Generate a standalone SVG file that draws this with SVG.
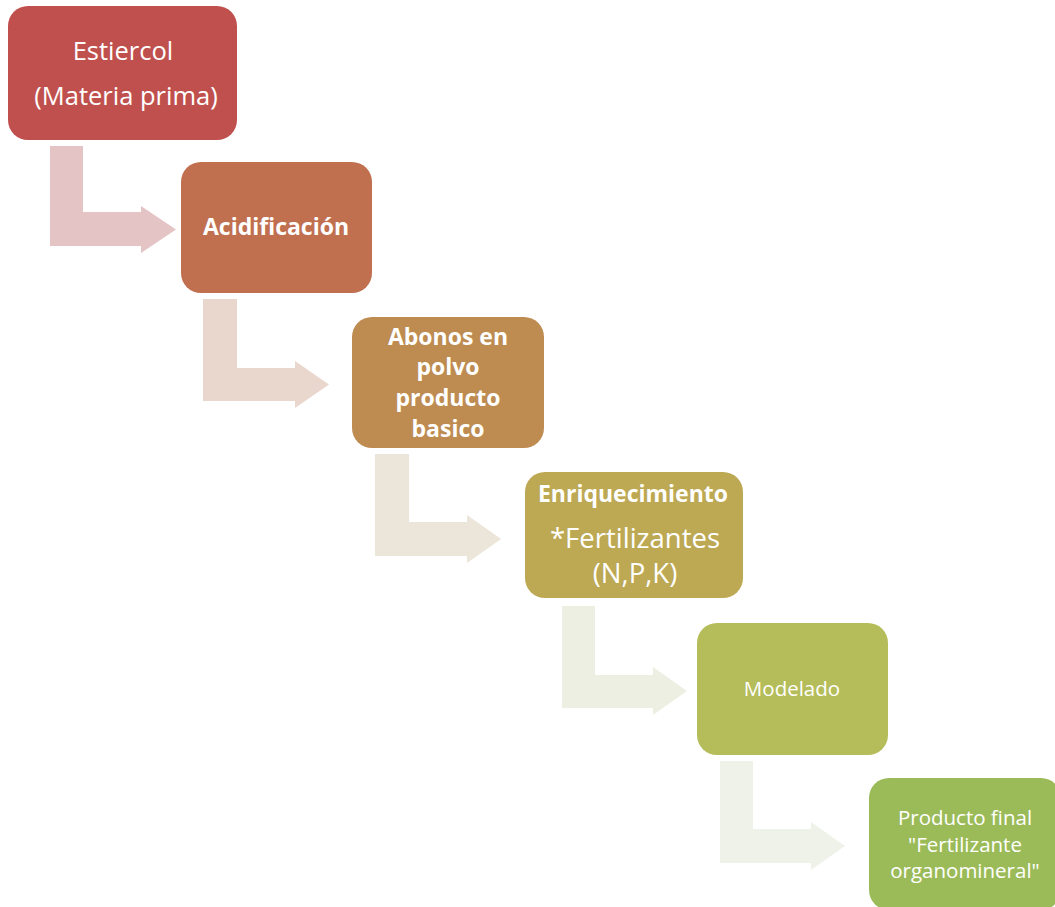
<svg xmlns="http://www.w3.org/2000/svg" width="1055" height="907" viewBox="0 0 1055 907">
<style>
.t{font-family:"Open Sans","Liberation Sans",sans-serif;fill:#fff;text-anchor:middle}
.b{font-weight:bold}
</style>
<rect width="1055" height="907" fill="#fff"/>
<g id="connectors">
<path d="M50,146 H83 V212 H141 V206 L176,229.5 L141,253 V246 H50 Z" fill="#E4C4C5"/>
<path d="M203,299 H237 V368 H295 V361 L329,384.5 L295,408 V401 H203 Z" fill="#E9D7CD"/>
<path d="M375,454 H409 V522 H467 V515 L501,539 L467,563 V556 H375 Z" fill="#ECE5D9"/>
<path d="M562,606 H595 V675 H653 V667 L687,691 L653,715 V708 H562 Z" fill="#EEEFE3"/>
<path d="M720,761 H753 V829 H811 V822 L845,846 L811,870 V863 H720 Z" fill="#EFF2E9"/>
</g>
<g id="n1">
<rect x="8" y="6" width="229" height="134" rx="20" fill="#C0504D"/>
<text class="t" x="123" y="60" font-size="25.5">Estiercol</text>
<text class="t" x="126" y="105" font-size="25.5">(Materia prima)</text>
</g>
<g id="n2">
<rect x="181" y="162" width="191" height="131" rx="20" fill="#C06F4F"/>
<text class="t b" x="276" y="235" font-size="23">Acidificación</text>
</g>
<g id="n3">
<rect x="352" y="317" width="192" height="131" rx="20" fill="#BE8C51"/>
<text class="t b" x="448" y="345" font-size="23">Abonos en</text>
<text class="t b" x="448" y="375" font-size="23">polvo</text>
<text class="t b" x="448" y="406" font-size="23">producto</text>
<text class="t b" x="448" y="437" font-size="23">basico</text>
</g>
<g id="n4">
<rect x="525" y="472" width="218" height="126" rx="20" fill="#BDA853"/>
<text class="t b" x="633" y="502" font-size="23">Enriquecimiento</text>
<text class="t" x="635" y="548" font-size="27.5">*Fertilizantes</text>
<text class="t" x="635" y="583" font-size="27.5">(N,P,K)</text>
</g>
<g id="n5">
<rect x="697" y="623" width="191" height="132" rx="20" fill="#B5BD5A"/>
<text class="t" x="792" y="696" font-size="20.5">Modelado</text>
</g>
<g id="n6">
<rect x="869" y="778" width="192" height="132" rx="20" fill="#9BBB59"/>
<text class="t" x="965" y="825" font-size="20.5">Producto final</text>
<text class="t" x="965" y="852" font-size="20.5">"Fertilizante</text>
<text class="t" x="965" y="878" font-size="20.5">organomineral"</text>
</g>
</svg>
